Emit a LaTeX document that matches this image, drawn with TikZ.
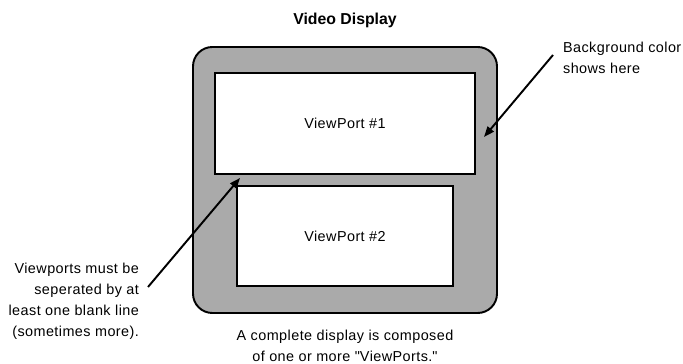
\documentclass[tikz,border=0pt]{standalone}
\usepackage{fontspec}
\setmainfont{Liberation Sans}
\newfontfamily\notefont[LetterSpace=3]{Liberation Sans}
\usepackage{tikz}
\usetikzlibrary{arrows.meta, positioning}
\definecolor{colBack}{RGB}{170,170,170}

\begin{document}
\begin{tikzpicture}[
  display/.style={rectangle, rounded corners=11pt, draw, line width=1.1pt, fill=colBack,
                  minimum width=6.08cm, minimum height=5.32cm},
  vport/.style={rectangle, draw, line width=1.1pt, fill=white, font=\notefont\fontsize{8.2}{10}\selectfont},
  note/.style={font=\notefont\fontsize{8.2}{12}\selectfont, inner sep=1pt},
  arr/.style={-{Triangle[length=6pt, width=4.5pt]}, line width=1.1pt},
]
\useasboundingbox (0,0) rectangle (13.66,7.28);

% Display with its two viewports
\node[display] (disp) at (6.90,3.68) {};
\node[vport, minimum width=5.2cm, minimum height=2.02cm] (vp1) at (6.90,4.81) {ViewPort \#1};
\node[vport, minimum width=4.32cm, minimum height=2.0cm] (vp2) at (6.90,2.56) {ViewPort \#2};

% Titles
\node[font=\fontsize{9}{11}\selectfont\bfseries] (title) at (6.90,6.88) {Video Display};
\node[note, align=center] (caption) at (6.90,0.36)
  {A complete display is composed\\of one or more \textquotedbl ViewPorts.\textquotedbl};

% Side notes
\node[note, align=right, anchor=east] (gapnote) at (2.82,1.25)
  {Viewports must be\\seperated by at\\least one blank line\\(sometimes more).};
\node[note, align=left, anchor=west] (bgnote) at (11.22,6.13)
  {Background color\\shows here};

% Arrow targets
\coordinate (gap) at (4.80,3.72);
\coordinate (bg) at (9.68,4.54);

\draw[arr] ([shift={(0.14,0.29)}]gapnote.east) -- (gap);
\draw[arr] ([shift={(-0.16,0.05)}]bgnote.west) -- (bg);

\end{tikzpicture}
\end{document}
